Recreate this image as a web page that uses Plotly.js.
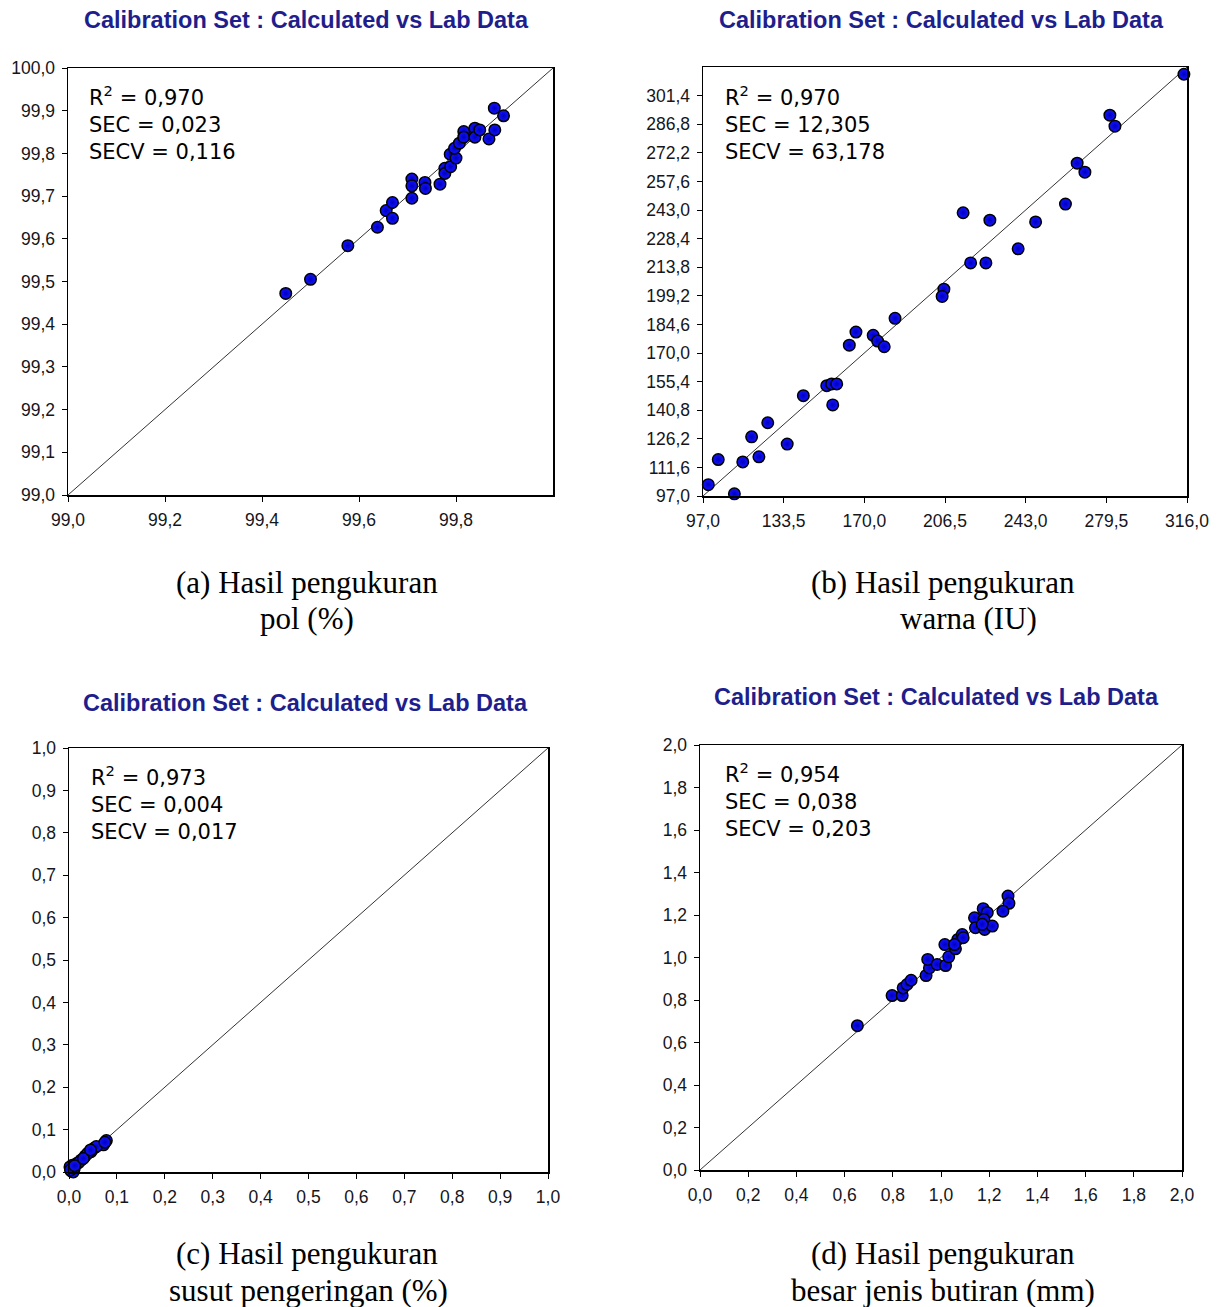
<!DOCTYPE html>
<html>
<head>
<meta charset="utf-8">
<script src="https://cdn.plot.ly/plotly-3.0.1.min.js"></script>
<style>html,body{margin:0;padding:0;background:#fff;}#chart{width:1219px;height:1307px;}</style>
</head>
<body>
<div id="chart"></div>
<script>
// ---------- DATA ----------
// (a) pol (%)
const polLab  = [99.449,99.500,99.577,99.638,99.656,99.669,99.669,99.709,99.709,99.709,99.736,99.737,99.767,99.777,99.777,99.789,99.788,99.800,99.797,99.807,99.816,99.816,99.839,99.839,99.849,99.868,99.880,99.879,99.898];
const polCalc = [99.472,99.505,99.584,99.627,99.666,99.685,99.648,99.695,99.740,99.724,99.732,99.718,99.728,99.765,99.753,99.769,99.798,99.789,99.812,99.824,99.851,99.838,99.859,99.838,99.855,99.834,99.855,99.906,99.888];
const polRange = [99.0, 100.0];
const polXTicks = [99.0,99.2,99.4,99.6,99.8];
const polYTicks = [99.0,99.1,99.2,99.3,99.4,99.5,99.6,99.7,99.8,99.9,100.0];
const polStats = ["R<sup>2</sup> = 0,970","SEC = 0,023","SECV = 0,116"];

// (b) warna (IU)
const warnaLab  = [314.6,281.1,283.4,266.3,269.8,261.0,247.5,239.6,226.8,214.7,218.1,225.0,206.0,205.2,183.9,166.2,163.2,174.0,176.0,179.0,153.0,155.2,157.5,155.7,142.4,126.3,119.0,135.1,122.3,115.0,103.9,99.4,111.2];
const warnaCalc = [312.3,291.4,285.8,266.9,262.3,246.0,236.9,223.2,237.8,241.6,216.0,216.0,202.6,198.9,187.7,180.7,174.0,179.0,176.1,173.2,153.3,154.2,154.2,143.5,148.2,134.4,127.2,123.5,117.0,114.4,115.6,102.8,98.1];
const warnaRange = [97.0, 316.0];
const warnaXTicks = [97.0,133.5,170.0,206.5,243.0,279.5,316.0];
const warnaYTicks = [97.0,111.6,126.2,140.8,155.4,170.0,184.6,199.2,213.8,228.4,243.0,257.6,272.2,286.8,301.4];
const warnaStats = ["R<sup>2</sup> = 0,970","SEC = 12,305","SECV = 63,178"];

// (c) susut pengeringan (%)
const susutLab  = [0.078,0.072,0.052,0.046,0.034,0.025,0.016,0.007,0.005,0.011,0.020,0.039,0.057,0.002,0.009,0.003,0.012,0.030,0.045,0.075];
const susutCalc = [0.074,0.064,0.056,0.048,0.038,0.028,0.020,0.016,0.002,0.008,0.022,0.044,0.060,0.012,0.000,0.005,0.015,0.032,0.052,0.070];
const susutRange = [0.0, 1.0];
const susutTicks = [0.0,0.1,0.2,0.3,0.4,0.5,0.6,0.7,0.8,0.9,1.0];
const susutStats = ["R<sup>2</sup> = 0,973","SEC = 0,004","SECV = 0,017"];

// (d) besar jenis butiran (mm)
const butiranLab  = [0.653,0.797,0.839,0.843,0.859,0.876,0.938,0.952,0.945,0.984,1.019,1.032,1.016,1.060,1.070,1.088,1.092,1.056,1.139,1.143,1.175,1.192,1.178,1.181,1.213,1.171,1.278,1.282,1.257];
const butiranCalc = [0.679,0.821,0.821,0.857,0.873,0.893,0.915,0.951,0.991,0.967,0.962,1.003,1.061,1.041,1.085,1.108,1.093,1.061,1.187,1.140,1.230,1.211,1.179,1.132,1.148,1.156,1.289,1.255,1.218];
const butiranRange = [0.0, 2.0];
const butiranTicks = [0.0,0.2,0.4,0.6,0.8,1.0,1.2,1.4,1.6,1.8,2.0];
const butiranStats = ["R<sup>2</sup> = 0,954","SEC = 0,038","SECV = 0,203"];

const chartTitle = "Calibration Set : Calculated vs Lab Data";
const captions = [
  ["(a) Hasil pengukuran","pol (%)"],
  ["(b) Hasil pengukuran","warna (IU)"],
  ["(c) Hasil pengukuran","susut pengeringan (%)"],
  ["(d) Hasil pengukuran","besar jenis butiran (mm)"]
];

// ---------- LAYOUT HELPERS ----------
const W = 1219, H = 1307;
const fx = p => p / W;
const fy = p => 1 - p / H;

const panels = [
  {lab: polLab, calc: polCalc, range: polRange, xt: polXTicks, yt: polYTicks, stats: polStats,
   box: [68, 68, 553, 495], titleX: 306, titleY: 20, statX: 87, statTop: 80,
   cap: [[307,582],[307,618]]},
  {lab: warnaLab, calc: warnaCalc, range: warnaRange, xt: warnaXTicks, yt: warnaYTicks, stats: warnaStats,
   box: [703, 67, 1187, 496], titleX: 941, titleY: 20, statX: 723, statTop: 80,
   cap: [[943,582],[968,618]]},
  {lab: susutLab, calc: susutCalc, range: susutRange, xt: susutTicks, yt: susutTicks, stats: susutStats,
   box: [69, 748, 548, 1172], titleX: 305, titleY: 703, statX: 89, statTop: 760,
   cap: [[307,1253],[308,1290]]},
  {lab: butiranLab, calc: butiranCalc, range: butiranRange, xt: butiranTicks, yt: butiranTicks, stats: butiranStats,
   box: [700, 745, 1182, 1170], titleX: 936, titleY: 697, statX: 723, statTop: 757,
   cap: [[943,1253],[943,1290]]}
];

const tickFont = {family: 'Liberation Sans, Arial, sans-serif', size: 17.5, color: '#15151c'};
const traces = [];
const layout = {
  width: W, height: H, margin: {l:0, r:0, t:0, b:0},
  paper_bgcolor: '#fff', plot_bgcolor: '#fff',
  showlegend: false, separators: ', ',
  annotations: []
};

panels.forEach((p, i) => {
  const n = i === 0 ? '' : String(i + 1);
  const xa = 'x' + n, ya = 'y' + n;
  const [l, t, r, b] = p.box;
  const common = {
    showline: true, mirror: true, linecolor: '#000', linewidth: 1.5,
    ticks: 'outside', ticklen: 5, tickwidth: 1, tickcolor: '#000',
    showgrid: false, zeroline: false, tickformat: '.1f', tickfont: tickFont,
    fixedrange: true, range: p.range, tickmode: 'array', ticklabelstandoff: 3
  };
  layout['xaxis' + n] = Object.assign({}, common, {domain: [fx(l), fx(r)], anchor: ya, tickvals: p.xt});
  layout['yaxis' + n] = Object.assign({}, common, {domain: [fy(b), fy(t)], anchor: xa, tickvals: p.yt});

  // identity line
  traces.push({x: p.range, y: p.range, xaxis: xa, yaxis: ya, mode: 'lines',
    line: {color: '#333', width: 1}, hoverinfo: 'skip'});
  // points
  traces.push({x: p.lab, y: p.calc, xaxis: xa, yaxis: ya, mode: 'markers', cliponaxis: false,
    marker: {size: 11.5, color: '#1414ff', line: {color: '#000', width: 1.5},
             gradient: {type: 'radial', color: '#0000c0'}}});

  // title
  layout.annotations.push({text: '<b>' + chartTitle + '</b>', xref: 'paper', yref: 'paper',
    x: fx(p.titleX), y: fy(p.titleY), xanchor: 'center', yanchor: 'middle', showarrow: false,
    font: {family: 'Liberation Sans, Arial, sans-serif', size: 23.5, color: '#1e1e8c'}});
  // stats (one block)
  layout.annotations.push({text: p.stats.join('<br>'), xref: 'paper', yref: 'paper', align: 'left',
    x: fx(p.statX), y: fy(p.statTop), xanchor: 'left', yanchor: 'top', showarrow: false,
    font: {family: 'DejaVu Sans, sans-serif', size: 21, color: '#000'}});
  // captions
  captions[i].forEach((c, k) => {
    layout.annotations.push({text: c, xref: 'paper', yref: 'paper',
      x: fx(p.cap[k][0]), y: fy(p.cap[k][1]), xanchor: 'center', yanchor: 'middle', showarrow: false,
      font: {family: 'Liberation Serif, Times New Roman, serif', size: 31, color: '#000'}});
  });
});

Plotly.newPlot('chart', traces, layout, {displayModeBar: false, staticPlot: true});
</script>
</body>
</html>
